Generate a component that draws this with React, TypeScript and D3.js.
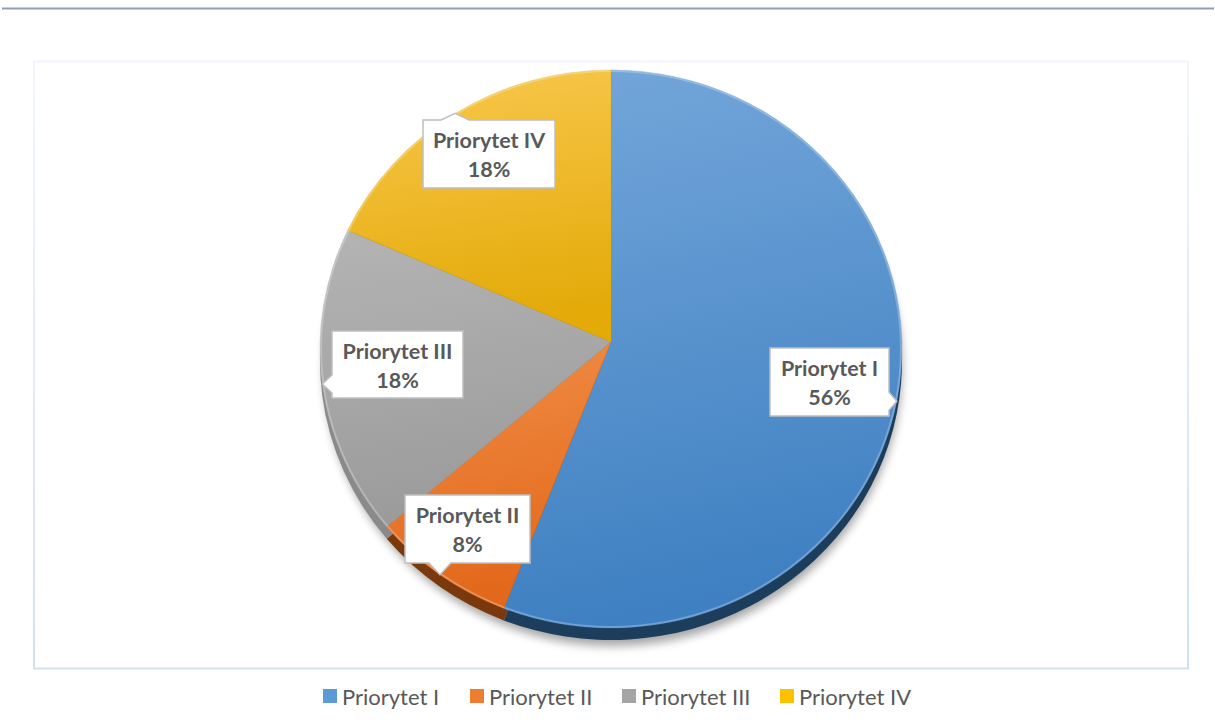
import React from "react";
import * as d3 from "d3";

// chart data
const categories = ["Priorytet I", "Priorytet II", "Priorytet III", "Priorytet IV"];
const shares = [56, 8, 18, 18];
const labels = ["56%", "8%", "18%", "18%"];

// colours: [light, dark, side]
const fills = [
  ["#74a7da", "#3f80c2", "#1f3d5c"],
  ["#f08d45", "#e2681b", "#7a3708"],
  ["#b4b4b4", "#9b9b9b", "#8a8a8a"],
  ["#f9c84e", "#e3aa08", "#8a6a00"],
];
const legendColors = ["#5b9bd5", "#ed7d31", "#a5a5a5", "#ffc000"];

// callout layout: box edges + pointer side
const callouts = [
  { x0: 770, y0: 348, x1: 889, y1: 416, side: "right" },
  { x0: 405, y0: 495, x1: 530, y1: 563, side: "bottom" },
  { x0: 332, y0: 331, x1: 463, y1: 398, side: "left" },
  { x0: 423, y0: 120, x1: 555, y1: 188, side: "top" },
];

const W = 1215;
const H = 728;
const cx = 611;
const cy = 349;
const rx = 291;
const ry = 279;
const vx = 611;
const vy = 342;
const depth = 12;

const onEllipse = (a: number, dy = 0): [number, number] => [
  cx + rx * Math.sin(a),
  cy + dy - ry * Math.cos(a),
];

function slicePath(a0: number, a1: number, dy = 0) {
  const p0 = onEllipse(a0, dy);
  const p1 = onEllipse(a1, dy);
  const large = a1 - a0 > Math.PI ? 1 : 0;
  return `M${vx},${vy + dy}L${p0[0]},${p0[1]}A${rx},${ry} 0 ${large} 1 ${p1[0]},${p1[1]}Z`;
}

function calloutPath(c: any, tx: number, ty: number) {
  const { x0, y0, x1, y1, side } = c;
  let pts: [number, number][];
  if (side === "right") {
    const m = Math.max(y0 + 12, Math.min(y1 - 12, ty));
    pts = [[x0, y0], [x1, y0], [x1, m - 9], [tx, ty], [x1, m + 9], [x1, y1], [x0, y1]];
  } else if (side === "left") {
    const m = Math.max(y0 + 12, Math.min(y1 - 12, ty));
    pts = [[x0, y0], [x1, y0], [x1, y1], [x0, y1], [x0, m + 9], [tx, ty], [x0, m - 9]];
  } else if (side === "bottom") {
    const m = Math.max(x0 + 14, Math.min(x1 - 14, tx));
    pts = [[x0, y0], [x1, y0], [x1, y1], [m + 11, y1], [tx, ty], [m - 11, y1], [x0, y1]];
  } else {
    const m = Math.max(x0 + 14, Math.min(x1 - 14, tx));
    pts = [[x0, y0], [m - 14, y0], [tx, ty], [m + 14, y0], [x1, y0], [x1, y1], [x0, y1]];
  }
  return d3.line()(pts) + "Z";
}

export default function App() {
  const pie = d3.pie<number>().sort(null).value((d) => d)(shares);

  const legendX = [323, 470, 622, 780];

  return (
    <svg
      width={W}
      height={H}
      style={{ position: "absolute", left: 0, top: 0, background: "#fff" }}
      fontFamily="Lato, 'Open Sans', sans-serif"
    >
      <defs>
        {fills.map((f, i) => (
          <linearGradient key={i} id={`g${i}`} x1="0" y1="0" x2="0.15" y2="1">
            <stop offset="0" stopColor={f[0]} />
            <stop offset="1" stopColor={f[1]} />
          </linearGradient>
        ))}
        <linearGradient id="leftBorder" x1="0" y1="0" x2="0" y2="1">
          <stop offset="0" stopColor="#8e9fb8" />
          <stop offset="1" stopColor="#c3daf0" />
        </linearGradient>
        <linearGradient id="plotBorder" gradientUnits="userSpaceOnUse" x1="0" y1="61" x2="0" y2="669">
          <stop offset="0" stopColor="#f1f6fc" />
          <stop offset="1" stopColor="#cfe1f2" />
        </linearGradient>
        <filter id="blur" x="-20%" y="-20%" width="140%" height="140%">
          <feGaussianBlur stdDeviation="5" />
        </filter>
        <filter id="soft" x="-5%" y="-5%" width="110%" height="110%">
          <feGaussianBlur stdDeviation="0.6" />
        </filter>
      </defs>

      {/* outer frame */}
      <line x1={2} x2={1214} y1={8.5} y2={8.5} stroke="#8e9fb8" strokeWidth={2} />
      <line x1={4} x2={4} y1={8} y2={728} stroke="url(#leftBorder)" strokeWidth={2} />

      {/* plot area */}
      <rect x={34} y={61.5} width={1154} height={607} fill="none" stroke="url(#plotBorder)" strokeWidth={2} />

      {/* shadow */}
      <ellipse cx={cx + 2} cy={cy + depth + 6} rx={rx - 2} ry={ry} fill="#000" opacity={0.35} filter="url(#blur)" />

      {/* side */}
      <g filter="url(#soft)">
        {pie.map((s, i) => (
          <path key={i} d={slicePath(s.startAngle, s.endAngle, depth)} fill={fills[i][2]} />
        ))}
      </g>

      {/* top face */}
      {pie.map((s, i) => (
        <path key={i} d={slicePath(s.startAngle, s.endAngle)} fill={`url(#g${i})`} stroke={fills[i][1]} strokeWidth={0.3} />
      ))}
      <ellipse cx={cx} cy={cy} rx={rx - 1} ry={ry - 1} fill="none" stroke="#fff" strokeOpacity={0.25} strokeWidth={2} />

      {/* callouts */}
      {pie.map((s, i) => {
        const c = callouts[i];
        const [tx, ty] = onEllipse((s.startAngle + s.endAngle) / 2);
        const mx = (c.x0 + c.x1) / 2;
        const my = (c.y0 + c.y1) / 2;
        return (
          <g key={i}>
            <path d={calloutPath(c, tx, ty)} fill="#fff" stroke="#bfbfbf" strokeWidth={1.5} />
            <text x={mx} y={my - 14} textAnchor="middle" dominantBaseline="central" fontSize={21.5} fontWeight={700} fill="#595959">
              {categories[i]}
            </text>
            <text x={mx} y={my + 15} textAnchor="middle" dominantBaseline="central" fontSize={21.5} fontWeight={700} fill="#595959">
              {labels[i]}
            </text>
          </g>
        );
      })}

      {/* legend */}
      {categories.map((c, i) => (
        <g key={c} transform={`translate(${legendX[i]},696)`}>
          <rect x={0} y={-7} width={14} height={14} fill={legendColors[i]} />
          <text x={19} y={0} dominantBaseline="central" fontSize={22} fill="#595959">
            {c}
          </text>
        </g>
      ))}
    </svg>
  );
}
